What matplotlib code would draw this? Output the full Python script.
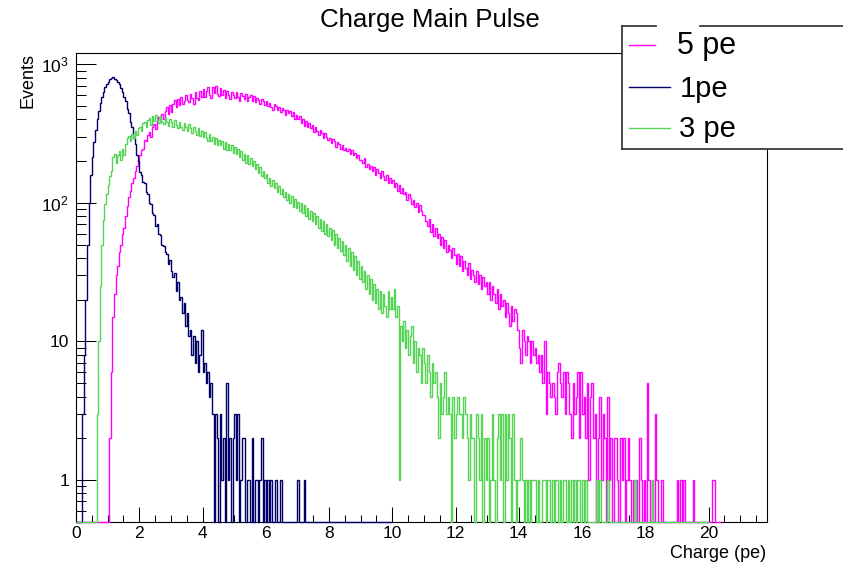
import numpy as np
import matplotlib
matplotlib.use("Agg")
import matplotlib.pyplot as plt
from matplotlib.ticker import MultipleLocator, LogLocator, FixedLocator, FuncFormatter, NullFormatter
from matplotlib.patches import Rectangle
from matplotlib.lines import Line2D

plt.rcParams['font.family'] = ['Liberation Sans', 'DejaVu Sans']
plt.rcParams['mathtext.fontset'] = 'custom'
plt.rcParams['mathtext.rm'] = 'Liberation Sans'
plt.rcParams['mathtext.it'] = 'Liberation Sans:italic'
plt.rcParams['mathtext.default'] = 'regular'

# ---------------- data (histogram counts, bin width 0.05 pe, starting at 0) ----------------
bin_width = 0.05
x_start = 0.0

counts_1pe = [
    0, 0, 0, 0, 3, 8, 20, 50, 100, 160, 215, 275, 335, 400, 460, 525, 580, 635, 680, 715,
    745, 780, 790, 810, 785, 775, 740, 715, 675, 635, 580, 540, 475, 445, 385, 350, 295, 265, 220, 200,
    168, 160, 142, 138, 120, 115, 100, 98, 85, 82, 68, 70, 60, 59, 50, 49, 44, 43, 36, 39,
    32, 29, 31, 23, 27, 20, 21, 16, 19, 13, 16, 11, 12, 8, 11, 7, 10, 6, 8, 12,
    6, 7, 5, 6, 4, 5, 3, 0, 3, 2, 0, 3, 1, 2, 0, 5, 1, 2, 0, 2,
    3, 1, 3, 0, 1, 2, 2, 0, 1, 1, 0, 2, 0, 1, 1, 0, 1, 2, 0, 1,
    0, 1, 0, 1, 0, 0, 1, 0, 0, 1, 0, 0, 0, 0, 0, 0, 0, 0, 0, 0,
    1, 0, 0, 0, 1, 0, 0, 0, 0, 0, 0, 0, 0, 0, 0, 0, 0, 0, 0, 0,
    0, 0, 0, 0, 0, 0, 0, 0, 0, 0, 0, 0, 0, 0, 0, 0, 0, 0, 0, 0,
    0, 0, 0, 0, 0, 0, 0, 0, 0, 0, 0, 0, 0, 0, 0, 0, 0, 0, 0, 0,
]

counts_3pe = [
    0, 0, 0, 0, 0, 0, 0, 0, 0, 0, 0, 0, 0, 3, 10, 25, 50, 75, 98, 115,
    135, 155, 170, 215, 225, 195, 220, 235, 205, 245, 220, 265, 295, 305, 280, 315, 295, 330, 310, 345,
    355, 330, 375, 385, 355, 395, 410, 365, 420, 390, 430, 395, 375, 420, 385, 370, 410, 385, 360, 400,
    385, 355, 395, 365, 345, 385, 355, 335, 375, 350, 330, 370, 345, 320, 350, 330, 310, 345, 305, 330,
    300, 325, 295, 280, 315, 280, 300, 265, 295, 260, 285, 260, 280, 245, 275, 240, 265, 240, 260, 230,
    255, 225, 245, 215, 235, 205, 225, 195, 220, 190, 210, 185, 200, 175, 190, 165, 180, 155, 170, 150,
    162, 140, 152, 132, 145, 128, 140, 120, 132, 115, 126, 110, 120, 104, 116, 100, 112, 94, 106, 92,
    102, 88, 100, 84, 96, 80, 92, 76, 88, 74, 84, 70, 80, 66, 77, 63, 74, 60, 70, 58,
    66, 54, 64, 50, 60, 47, 56, 45, 53, 42, 50, 38, 47, 35, 44, 33, 41, 30, 38, 28,
    35, 27, 32, 24, 30, 22, 28, 20, 26, 19, 24, 17, 23, 16, 22, 18, 15, 23, 17, 21,
    17, 24, 15, 18, 1, 13, 10, 14, 9, 12, 8, 11, 13, 7, 10, 6, 9, 8, 5, 9,
    7, 5, 8, 6, 4, 7, 5, 6, 4, 2, 5, 3, 4, 6, 3, 4, 3, 0, 4, 2,
    3, 4, 3, 3, 2, 4, 3, 2, 1, 3, 2, 2, 0, 3, 2, 1, 3, 0, 2, 1,
    2, 0, 1, 3, 1, 0, 2, 3, 1, 3, 0, 3, 1, 3, 2, 0, 3, 1, 0, 1,
    1, 2, 1, 0, 1, 0, 1, 0, 1, 1, 1, 0, 1, 0, 0, 1, 1, 0, 1, 1,
    0, 1, 0, 1, 1, 0, 1, 0, 1, 1, 0, 1, 0, 1, 0, 1, 0, 1, 1, 0,
    1, 0, 1, 0, 0, 0, 0, 0, 0, 1, 0, 1, 0, 0, 0, 0, 1, 0, 0, 0,
    0, 0, 0, 0, 0, 0, 0, 0, 0, 0, 0, 0, 0, 1, 0, 0, 0, 0, 0, 0,
    0, 0, 0, 0, 1, 0, 0, 0, 0, 0, 0, 0, 0, 0, 0, 0, 0, 0, 0, 0,
    0, 0, 0, 0, 0, 0, 0, 0, 0, 0, 0, 0, 0, 0, 0, 0, 0, 0, 0, 0,
]

counts_5pe = [
    0, 0, 0, 0, 0, 0, 0, 0, 0, 0, 0, 0, 0, 0, 0, 0, 0, 0, 0, 0,
    0, 2, 6, 15, 22, 30, 35, 44, 50, 60, 66, 80, 95, 110, 122, 140, 150, 170, 185, 205,
    220, 240, 245, 285, 280, 310, 325, 300, 355, 370, 340, 395, 415, 385, 440, 405, 460, 490, 440, 505,
    455, 520, 550, 490, 565, 510, 585, 520, 540, 600, 555, 535, 615, 570, 520, 635, 575, 550, 640, 580,
    665, 585, 640, 690, 600, 575, 680, 620, 700, 610, 590, 670, 600, 655, 575, 640, 600, 560, 630, 600,
    570, 630, 580, 545, 620, 595, 560, 610, 540, 585, 605, 545, 590, 530, 575, 550, 520, 560, 540, 505,
    540, 500, 525, 490, 470, 515, 500, 465, 495, 450, 480, 465, 430, 470, 445, 460, 420, 450, 400, 430,
    405, 420, 380, 400, 360, 390, 350, 375, 345, 365, 325, 350, 330, 310, 335, 320, 295, 320, 300, 285,
    295, 270, 290, 280, 255, 275, 265, 245, 260, 240, 250, 235, 245, 225, 240, 220, 230, 210, 222, 205,
    205, 195, 210, 180, 190, 175, 185, 170, 180, 160, 175, 165, 150, 170, 155, 145, 160, 140, 150, 138,
    145, 130, 140, 122, 135, 118, 128, 115, 120, 105, 115, 108, 98, 104, 94, 100, 86, 96, 88, 82,
    82, 74, 68, 76, 62, 70, 58, 66, 56, 60, 50, 57, 47, 54, 44, 50, 46, 40, 47, 42,
    36, 43, 35, 41, 32, 38, 34, 30, 37, 28, 33, 30, 27, 32, 26, 30, 24, 29, 25, 27,
    22, 27, 20, 25, 22, 19, 24, 17, 22, 18, 20, 15, 19, 16, 13, 18, 14, 17, 16, 12,
    9, 7, 12, 10, 8, 11, 10, 7, 10, 8, 9, 7, 8, 6, 8, 5, 10, 3, 6, 5,
    4, 5, 4, 3, 6, 7, 5, 4, 6, 3, 6, 5, 3, 2, 5, 3, 4, 6, 2, 6,
    3, 4, 2, 5, 1, 4, 5, 2, 3, 0, 2, 4, 1, 3, 2, 0, 4, 1, 2, 0,
    2, 2, 1, 0, 2, 1, 2, 0, 1, 2, 1, 0, 1, 0, 1, 0, 2, 1, 0, 1,
    0, 5, 1, 0, 1, 0, 3, 1, 0, 0, 1, 0, 0, 0, 0, 0, 0, 0, 0, 0,
    1, 0, 1, 0, 1, 0, 0, 0, 0, 0, 1, 0, 0, 0, 0, 0, 0, 0, 0, 0,
    0, 0, 1, 1, 0, 0, 0, 0,
]

series_labels = ['5 pe', '1pe', '3 pe']
series_colors = ['#ff00ff', '#000066', '#55d455']
series_counts = [counts_5pe, counts_1pe, counts_3pe]

y_ticks = [1, 10, 100, 1000]
y_tick_labels = ['1', '10', '$10^{2}$', '$10^{3}$']

title_text = 'Charge Main Pulse'
x_label = 'Charge (pe)'
y_label = 'Events'

# ---------------- figure ----------------
W, H = 843, 564
fig = plt.figure(figsize=(W / 100, H / 100), dpi=100)

def fx(px):
    return px / W

def fy(py):
    return 1 - py / H

ax_left, ax_right, ax_top, ax_bottom = 76, 766.7, 52.7, 521.7
ax = fig.add_axes([fx(ax_left), fy(ax_bottom), fx(ax_right) - fx(ax_left), fy(ax_top) - fy(ax_bottom)])

YMIN, YMAX = 0.5, 1212
ax.set_yscale('log')
ax.set_ylim(YMIN, YMAX)
ax.set_xlim(0, 21.84)

for counts, color, z in zip(series_counts, series_colors, [3, 4, 5]):
    c = np.asarray(counts, dtype=float)
    edges = x_start + np.arange(len(c) + 1) * bin_width
    ax.stairs(np.maximum(c, YMIN), edges, color=color, lw=1.0, baseline=None,
              zorder=z, clip_on=False)

ax.xaxis.set_major_locator(MultipleLocator(2))
ax.xaxis.set_minor_locator(MultipleLocator(0.5))
ax.yaxis.set_major_locator(FixedLocator(y_ticks))
ax.yaxis.set_major_formatter(FuncFormatter(lambda v, p: y_tick_labels[y_ticks.index(round(v))] if round(v) in y_ticks else ''))
ax.yaxis.set_minor_locator(LogLocator(base=10, subs=np.arange(2, 10), numticks=30))
ax.yaxis.set_minor_formatter(NullFormatter())

ax.tick_params(axis='both', which='both', direction='in', top=False, right=False,
               width=0.75, color='black', labelsize=12.5)
ax.tick_params(axis='x', which='major', length=10.8, pad=3)
ax.tick_params(axis='x', which='minor', length=5)
ax.tick_params(axis='y', which='major', length=14.4, pad=5)
ax.tick_params(axis='y', which='minor', length=7.2)
for s in ax.spines.values():
    s.set_linewidth(0.8)
    s.set_color('black')

# titles / labels
fig.text(fx(430), fy(27.3), title_text, ha='center', va='baseline', fontsize=18.6)
fig.text(fx(766), fy(558), x_label, ha='right', va='baseline', fontsize=13)
fig.text(fx(27.7), fy(53), y_label, ha='center', va='top', rotation=90, fontsize=13)

# legend (drawn manually, ROOT style)
lx0, ly0, ly1 = 621.7, 25.7, 149
fig.add_artist(Rectangle((fx(lx0), fy(ly1)), fx(W + 10) - fx(lx0), fy(ly0) - fy(ly1),
                         transform=fig.transFigure, facecolor='white', edgecolor='none', zorder=10))
edge_kw = dict(transform=fig.transFigure, color='#3a3a3a', lw=1.3, zorder=11)
fig.add_artist(Line2D([fx(lx0), fx(lx0)], [fy(ly0), fy(ly1)], **edge_kw))
fig.add_artist(Line2D([fx(lx0), fx(W + 10)], [fy(ly1), fy(ly1)], **edge_kw))
fig.add_artist(Line2D([fx(lx0), fx(656)], [fy(ly0), fy(ly0)], **edge_kw))
fig.add_artist(Line2D([fx(700), fx(W + 10)], [fy(ly0), fy(ly0)], **edge_kw))

entry_line_y = [45, 87.3, 128.3]
entry_line_x1 = [655, 670, 670]
entry_text_x = [676.7, 680, 679]
entry_text_base = [54, 96.7, 136.7]
entry_font = [22, 21, 21]
for lab, col, yl, xl1, xt, yt, fs in zip(series_labels, series_colors, entry_line_y, entry_line_x1,
                                         entry_text_x, entry_text_base, entry_font):
    fig.add_artist(Line2D([fx(629), fx(xl1)], [fy(yl), fy(yl)], transform=fig.transFigure,
                          color=col, lw=1.0, zorder=12))
    fig.text(fx(xt), fy(yt), lab, ha='left', va='baseline', fontsize=fs, zorder=12)

fig.savefig('out.png', dpi=100, facecolor='white')
